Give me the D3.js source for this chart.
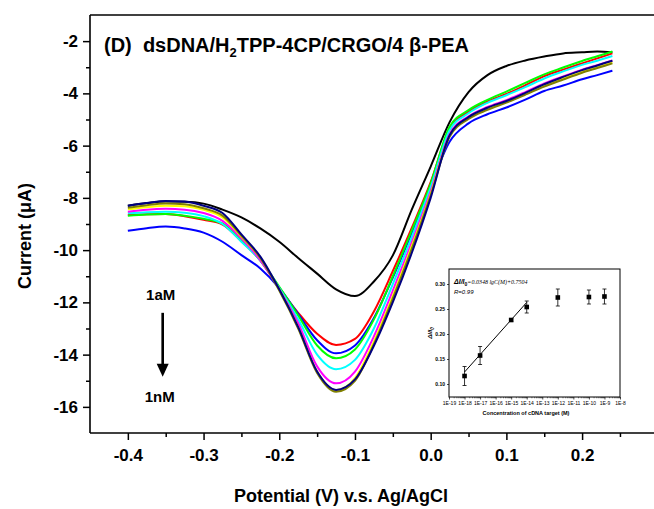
<!DOCTYPE html>
<html><head><meta charset="utf-8">
<script src="https://cdn.jsdelivr.net/npm/d3@7"></script>
<style>
body{margin:0;background:#fff;}
svg{display:block;}
text{font-family:"Liberation Sans",Arial,sans-serif;}
</style>
</head><body>
<svg id="chart" width="654" height="509"></svg>
<script>
// ---------- data ----------
const potential = [-0.4,-0.375,-0.35,-0.325,-0.3,-0.275,-0.25,-0.225,-0.2,-0.175,-0.15,-0.125,-0.1,-0.075,-0.05,-0.025,0,0.025,0.05,0.075,0.1,0.125,0.15,0.175,0.2,0.22,0.24];
const currentBlack   = [-8.30,-8.20,-8.14,-8.15,-8.22,-8.45,-8.75,-9.17,-9.68,-10.30,-10.90,-11.50,-11.76,-11.20,-10.20,-8.45,-6.80,-5.10,-3.95,-3.30,-2.95,-2.74,-2.59,-2.47,-2.43,-2.40,-2.43];
const currentRed     = [-8.66,-8.63,-8.62,-8.70,-8.84,-9.02,-9.66,-10.40,-11.45,-12.40,-13.20,-13.63,-13.40,-12.35,-10.80,-9.15,-7.40,-5.35,-4.70,-4.31,-4.02,-3.69,-3.34,-3.09,-2.85,-2.66,-2.47];
const currentBlue    = [-9.26,-9.16,-9.10,-9.17,-9.33,-9.68,-10.19,-10.70,-11.45,-12.45,-13.45,-13.95,-13.65,-12.60,-11.05,-9.35,-7.55,-5.85,-5.15,-4.80,-4.54,-4.24,-3.91,-3.70,-3.46,-3.30,-3.13];
const currentGreen   = [-8.68,-8.64,-8.62,-8.68,-8.80,-8.98,-9.62,-10.38,-11.40,-12.50,-13.65,-14.14,-13.80,-12.65,-11.00,-9.25,-7.45,-5.28,-4.64,-4.25,-3.93,-3.60,-3.27,-3.01,-2.76,-2.58,-2.40];
const currentCyan    = [-8.59,-8.55,-8.53,-8.57,-8.70,-9.00,-9.68,-10.40,-11.45,-12.65,-14.00,-14.56,-14.20,-13.00,-11.30,-9.50,-7.60,-5.41,-4.76,-4.36,-4.07,-3.76,-3.43,-3.16,-2.91,-2.75,-2.57];
const currentMagenta = [-8.53,-8.45,-8.42,-8.45,-8.58,-8.88,-9.55,-10.38,-11.50,-12.80,-14.45,-15.10,-14.65,-13.30,-11.55,-9.70,-7.75,-5.55,-4.88,-4.52,-4.26,-3.95,-3.62,-3.35,-3.09,-2.92,-2.74];
const currentYellow  = [-8.44,-8.36,-8.30,-8.32,-8.46,-8.75,-9.48,-10.30,-11.50,-12.95,-14.65,-15.36,-14.90,-13.50,-11.75,-9.85,-7.85,-5.62,-4.95,-4.60,-4.32,-4.02,-3.71,-3.44,-3.18,-3.00,-2.82];
const currentOlive   = [-8.38,-8.28,-8.22,-8.24,-8.40,-8.68,-9.45,-10.30,-11.55,-13.00,-14.70,-15.42,-15.00,-13.60,-11.85,-9.95,-7.90,-5.66,-4.98,-4.63,-4.35,-4.05,-3.74,-3.47,-3.21,-3.03,-2.85];
const currentNavy    = [-8.30,-8.20,-8.12,-8.14,-8.30,-8.58,-9.40,-10.25,-11.50,-12.95,-14.65,-15.35,-14.95,-13.66,-11.99,-10.11,-8.00,-5.60,-4.91,-4.55,-4.29,-3.98,-3.65,-3.37,-3.11,-2.93,-2.75];

const xMajorTicks = [-0.4,-0.3,-0.2,-0.1,0.0,0.1,0.2];
const xMinorTicks = [-0.35,-0.25,-0.15,-0.05,0.05,0.15,0.25];
const yMajorTicks = [-16,-14,-12,-10,-8,-6,-4,-2];
const yMinorTicks = [-15,-13,-11,-9,-7,-5,-3];

// inset data
const concentration = [1e-18,1e-17,1e-15,1e-14,1e-12,1e-10,1e-9];
const ratio         = [0.116,0.157,0.228,0.254,0.273,0.274,0.275];
const ratioError    = [0.019,0.018,0.003,0.012,0.017,0.014,0.015];
const fitSlope = 0.0348, fitIntercept = 0.7504;
const fitRange = [1e-18,1e-14];
const insetYTicks = [0.10,0.15,0.20,0.25,0.30];

// ---------- styles ----------
const series = [
  {v: currentBlack,   c: "#000000"},
  {v: currentRed,     c: "#ff0000"},
  {v: currentBlue,    c: "#0000ff"},
  {v: currentGreen,   c: "#00ff00"},
  {v: currentCyan,    c: "#00ffff"},
  {v: currentMagenta, c: "#ff00ff"},
  {v: currentYellow,  c: "#ffff00"},
  {v: currentOlive,   c: "#808000"},
  {v: currentNavy,    c: "#000080"}
];

const svg = d3.select("#chart");
const x = d3.scaleLinear().domain([-0.45, 0.3]).range([90, 657.8]);
const y = d3.scaleLinear().domain([-17, -1]).range([433, 15]);

// frame
const frame = svg.append("g").attr("stroke","#000").attr("stroke-width",1.6).attr("fill","none");
frame.append("line").attr("x1",x(-0.45)).attr("x2",x(-0.45)).attr("y1",y(-1)).attr("y2",y(-17));
frame.append("line").attr("x1",x(-0.45)).attr("x2",x(0.3)).attr("y1",y(-17)).attr("y2",y(-17));
frame.append("line").attr("x1",x(-0.45)).attr("x2",x(0.3)).attr("y1",y(-1)).attr("y2",y(-1));

// axes
function styleAxis(g){
  g.select(".domain").remove();
  g.selectAll(".tick line").attr("stroke","#000").attr("stroke-width",1.5);
  g.selectAll(".tick text").attr("font-family","Liberation Sans, Arial, sans-serif").attr("font-weight","bold").attr("fill","#000");
}
svg.append("g").attr("transform",`translate(0,${y(-17)})`)
  .call(d3.axisBottom(x).tickValues(xMajorTicks).tickSize(7).tickPadding(9).tickFormat(d=>d.toFixed(1)))
  .call(styleAxis).selectAll("text").attr("font-size",17);
svg.append("g").attr("transform",`translate(0,${y(-17)})`)
  .call(d3.axisBottom(x).tickValues(xMinorTicks).tickSize(4).tickFormat(""))
  .call(styleAxis);
svg.append("g").attr("transform",`translate(${x(-0.45)},0)`)
  .call(d3.axisLeft(y).tickValues(yMajorTicks).tickSize(7).tickPadding(5).tickFormat(d=>String(d)))
  .call(styleAxis).selectAll("text").attr("font-size",17);
svg.append("g").attr("transform",`translate(${x(-0.45)},0)`)
  .call(d3.axisLeft(y).tickValues(yMinorTicks).tickSize(4).tickFormat(""))
  .call(styleAxis);

// axis titles
svg.append("text").attr("x",341).attr("y",502).attr("text-anchor","middle")
  .attr("font-size",18).attr("font-weight","bold").text("Potential (V) v.s. Ag/AgCl");
svg.append("text").attr("transform","translate(31,236) rotate(-90)").attr("text-anchor","middle")
  .attr("font-size",18).attr("font-weight","bold").text("Current (\u03BCA)");

// title
const t = svg.append("text").attr("x",104).attr("y",52).attr("font-size",20).attr("font-weight","bold");
t.append("tspan").text("(D)\u00A0\u00A0dsDNA/H");
t.append("tspan").attr("dy",5).attr("font-size",13).text("2");
t.append("tspan").attr("dy",-5).text("TPP-4CP/CRGO/4 \u03B2-PEA");

// curves
const line = d3.line().x((d,i)=>x(potential[i])).y(d=>y(d)).curve(d3.curveMonotoneX);
const cg = svg.append("g");
series.forEach(s=>{
  cg.append("path").attr("d",line(s.v)).attr("fill","none").attr("stroke",s.c).attr("stroke-width",2);
});

// arrow annotation
const ax = -0.354;
svg.append("line").attr("x1",x(ax)).attr("x2",x(ax)).attr("y1",y(-12.4)).attr("y2",y(-14.4))
  .attr("stroke","#000").attr("stroke-width",2.6);
svg.append("path").attr("d",`M${x(ax)-6},${y(-14.35)} L${x(ax)+6},${y(-14.35)} L${x(ax)},${y(-14.85)} Z`).attr("fill","#000");
svg.append("text").attr("x",x(ax)-2).attr("y",y(-11.9)).attr("text-anchor","middle").attr("font-size",15).attr("font-weight","bold").text("1aM");
svg.append("text").attr("x",x(ax)-3).attr("y",y(-15.8)).attr("text-anchor","middle").attr("font-size",15).attr("font-weight","bold").text("1nM");

// ---------- inset ----------
const ix = d3.scaleLog().domain([1e-19,1e-8]).range([449,620]);
const iy = d3.scaleLinear().domain([0.074,0.33]).range([397,269]);
const ins = svg.append("g");
ins.append("rect").attr("x",449).attr("y",269).attr("width",171).attr("height",128)
  .attr("fill","#fff").attr("stroke","#000").attr("stroke-width",1);

const decades = d3.range(-19,-7).map(e=>Math.pow(10,e));
const minorLog = [];
d3.range(-19,-8).forEach(e=>{ for(let k=2;k<=9;k++) minorLog.push(k*Math.pow(10,e)); });
const ixAxis = ins.append("g").attr("transform","translate(0,397)");
ixAxis.call(d3.axisBottom(ix).tickValues(decades).tickSize(2.5).tickPadding(1.5)
  .tickFormat(d=>"1E"+Math.round(Math.log10(d))));
ixAxis.select(".domain").remove();
ixAxis.selectAll("line").attr("stroke-width",0.7);
ixAxis.selectAll("text").attr("font-size",5).attr("font-family","Liberation Sans, Arial, sans-serif");
const ixMinor = ins.append("g").attr("transform","translate(0,397)");
ixMinor.call(d3.axisBottom(ix).tickValues(minorLog).tickSize(1.3).tickFormat(""));
ixMinor.select(".domain").remove();
ixMinor.selectAll("line").attr("stroke-width",0.5);

const iyAxis = ins.append("g").attr("transform","translate(449,0)");
iyAxis.call(d3.axisLeft(iy).tickValues(insetYTicks).tickSize(2).tickPadding(2).tickFormat(d=>d.toFixed(2)));
iyAxis.select(".domain").remove();
iyAxis.selectAll("line").attr("stroke-width",0.7);
iyAxis.selectAll("text").attr("font-size",5).attr("font-family","Liberation Sans, Arial, sans-serif").attr("font-weight","bold");

// fit line
ins.append("line")
  .attr("x1",ix(fitRange[0])).attr("y1",iy(fitSlope*Math.log10(fitRange[0])+fitIntercept))
  .attr("x2",ix(fitRange[1])).attr("y2",iy(fitSlope*Math.log10(fitRange[1])+fitIntercept))
  .attr("stroke","#000").attr("stroke-width",1);

// error bars & points
concentration.forEach((c,i)=>{
  const cx = ix(c), y1 = iy(ratio[i]-ratioError[i]), y2 = iy(ratio[i]+ratioError[i]);
  ins.append("line").attr("x1",cx).attr("x2",cx).attr("y1",y1).attr("y2",y2).attr("stroke","#000").attr("stroke-width",0.8);
  ins.append("line").attr("x1",cx-2).attr("x2",cx+2).attr("y1",y1).attr("y2",y1).attr("stroke","#000").attr("stroke-width",0.8);
  ins.append("line").attr("x1",cx-2).attr("x2",cx+2).attr("y1",y2).attr("y2",y2).attr("stroke","#000").attr("stroke-width",0.8);
  ins.append("rect").attr("x",cx-2.3).attr("y",iy(ratio[i])-2.3).attr("width",4.6).attr("height",4.6).attr("fill","#000");
});

// inset texts
const eq = ins.append("text").attr("x",454).attr("y",284).attr("font-size",6);
eq.append("tspan").attr("font-weight","bold").attr("font-style","italic").attr("font-size",7).text("\u0394I/I");
eq.append("tspan").attr("font-weight","bold").attr("font-size",5).attr("dy",1.5).text("0");
eq.append("tspan").attr("dy",-1.5).attr("font-family","Liberation Serif, serif").attr("font-style","italic").text("=0.0348 lgC(M)+0.7504");
ins.append("text").attr("x",454).attr("y",294).attr("font-size",6).attr("font-family","Liberation Serif, serif").attr("font-style","italic").text("R=0.99");
ins.append("text").attr("x",526).attr("y",415).attr("text-anchor","middle").attr("font-size",5.5).attr("font-weight","bold").text("Concentration of cDNA target (M)");
const yl = ins.append("text").attr("transform","translate(432,333) rotate(-90)").attr("text-anchor","middle").attr("font-size",6).attr("font-weight","bold").attr("font-style","italic");
yl.append("tspan").text("\u0394I/I");
yl.append("tspan").attr("font-size",4.5).attr("dy",1.5).text("0");
</script>
</body></html>
